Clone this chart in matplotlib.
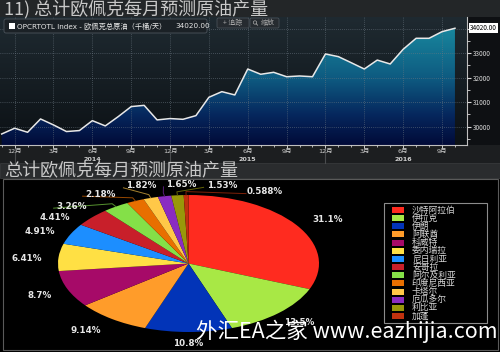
import numpy as np
import pandas as pd
import matplotlib
matplotlib.use('Agg')
import matplotlib.pyplot as plt
import matplotlib.transforms as mtransforms
from matplotlib.colors import LinearSegmentedColormap, to_rgb
from matplotlib.patches import Rectangle, FancyBboxPatch, Circle
from matplotlib.ticker import MultipleLocator, FuncFormatter

CJK = ['Noto Sans CJK SC', 'DejaVu Sans']
plt.rcParams['font.family'] = CJK

# OPEC total crude output, monthly, Nov 2013 - Oct 2016 (kb/d)
months = pd.date_range('2013-11-01', periods=36, freq='MS')
opec_total = [29700, 29935, 29770, 30314, 30070, 29800, 29840, 30245, 30030, 30410, 30820, 30870,
              30275, 30330, 30300, 30450, 31200, 31430, 31295, 32355, 32140, 32220, 32040, 32070,
              32040, 32970, 32860, 32610, 32355, 32720, 32560, 33160, 33610, 33610, 33880, 34020]

# member share of output (%)
members = ['沙特阿拉伯', '伊拉克', '伊朗', '阿联酋', '科威特', '委内瑞拉', '尼日利亚',
           '安哥拉', '阿尔及利亚', '印度尼西亚', '卡塔尔', '厄瓜多尔', '利比亚', '加蓬']
shares = [31.1, 13.5, 10.8, 9.14, 8.7, 6.41, 4.91, 4.41, 3.26, 2.18, 1.82, 1.65, 1.53, 0.588]
pie_colors = ['#ff2b1f', '#a8e845', '#0234b8', '#ff9c2a', '#a60a68', '#ffe044', '#1c8eff',
              '#c81f2a', '#84e048', '#e86f00', '#ffc848', '#8a2cc2', '#98980a', '#c0320e']

# label layout (degrees shifted from slice middle, radius)
label_shift = [-3, 1, 0, -3, 0, 1.5, 3, 9, 13, 9.5, 0.7, -8, -17.5, -30]
label_r = [1.24, 1.21, 1.175, 1.25, 1.23, 1.24, 1.23, 1.23, 1.225, 1.215, 1.19, 1.15, 1.17, 1.2]

W, H = 500, 352
fig = plt.figure(figsize=(W / 100, H / 100), dpi=100, facecolor='black')


def frac(x0, y0, x1, y1):
    return [x0 / W, 1 - y1 / H, (x1 - x0) / W, (y1 - y0) / H]


def overlay(z):
    a = fig.add_axes([0, 0, 1, 1], zorder=z)
    a.set_xlim(0, W)
    a.set_ylim(H, 0)
    a.axis('off')
    return a


# background bands
bg = overlay(0)
bg.add_patch(Rectangle((0, 0), W, 17, fc='#232628', ec='none'))
bg.add_patch(Rectangle((0, 17), W, 128, fc='#0e1013', ec='none'))
bg.add_patch(Rectangle((0, 145), W, 18, fc='#1c1e20', ec='none'))
bg.add_patch(Rectangle((0, 163), W, 15, fc='#2a2c2e', ec='#3a3c3e', lw=0.6))
bg.add_patch(Rectangle((2.5, 179), W - 5, 171, fc='black', ec='#5a5a5a', lw=0.8))

# ---- top: line chart ----
ax = fig.add_axes(frac(0, 17, 467, 145), zorder=1)
x = np.arange(len(months))
ylo, yhi = 29250, 34480
xlo, xhi = -0.13, 35.93
grad = np.linspace(ylo, yhi, 256)[:, None]
bg_cmap = LinearSegmentedColormap.from_list('bg', ['#0c1115', '#1f2a31'])
fill_cmap = LinearSegmentedColormap.from_list(
    'fill', [(0, '#010a38'), (0.24, '#06285e'), (0.52, '#0e5a80'), (1, '#1a90a4')])
ax.imshow(grad, cmap=bg_cmap, extent=[xlo, xhi, ylo, yhi], origin='lower',
          aspect='auto', zorder=0)
poly = ax.fill_between(x, opec_total, ylo, facecolor='none', edgecolor='none')
img = ax.imshow(grad, cmap=fill_cmap, extent=[xlo, xhi, ylo, yhi], origin='lower',
                aspect='auto', zorder=1)
img.set_clip_path(poly.get_paths()[0], transform=ax.transData)
ax.plot(x, opec_total, color='#e8e8e8', lw=1.1, zorder=4)
ax.set_xlim(xlo, xhi)
ax.set_ylim(ylo, yhi)

qtr = [i for i, m in enumerate(months) if m.month % 3 == 0]
ax.set_xticks(qtr)
ax.set_xticklabels([f'{months[i].month}月' for i in qtr],
                   family=['DejaVu Sans', 'Noto Sans CJK SC'])
ax.set_xticks(x, minor=True)
ax.yaxis.tick_right()
ax.set_yticks(range(30000, 35000, 1000))
ax.yaxis.set_major_formatter(FuncFormatter(lambda v, p: '' if v > 33500 else f'{v:.0f}'))
ax.yaxis.set_minor_locator(MultipleLocator(500))
ax.tick_params(axis='x', which='major', colors='#cfcfcf', labelsize=4.6, length=2.5, width=0.7, pad=0.2)
ax.tick_params(axis='x', which='minor', color='#cfcfcf', length=1.5, width=0.6)
ax.tick_params(axis='y', which='major', colors='#d8d8d8', labelsize=4.6, length=3, width=0.8, pad=1)
ax.tick_params(axis='y', which='minor', color='#d8d8d8', length=2, width=0.6)
ax.grid(True, which='major', color='#6c7882', ls=(0, (1, 2)), lw=0.5)
ax.set_axisbelow(False)
for s in ['top', 'left']:
    ax.spines[s].set_visible(False)
for s in ['right', 'bottom']:
    ax.spines[s].set_color('#bfbfbf')
    ax.spines[s].set_linewidth(0.8)

blend = mtransforms.blended_transform_factory(ax.transData, ax.transAxes)
for i, m in enumerate(months):
    if m.month == 6:
        ax.text(i, -0.11, str(m.year), transform=blend, ha='center', va='center',
                fontsize=4.6, color='#cfcfcf', fontweight='bold', family='DejaVu Sans')
    if m.month == 12:
        ax.plot([i, i], [0, -0.14], transform=blend, color='#4a4c4e', lw=0.8, clip_on=False)

last = opec_total[-1]
ax.annotate(f'{last:.2f}', xy=(1, last), xycoords=('axes fraction', 'data'),
            xytext=(2, 0), textcoords='offset points', fontsize=4.6, color='black',
            va='center', ha='left', annotation_clip=False, zorder=6,
            bbox=dict(boxstyle='square,pad=0.15', fc='white', ec='none'))

# ---- bottom: pie ----
pax = fig.add_axes(frac(58, 195, 319, 332), zorder=2)
wedges, _ = pax.pie(shares, colors=pie_colors, startangle=90, counterclock=False,
                    radius=1, wedgeprops=dict(linewidth=0))
pax.set_aspect('auto')
pax.set_xlim(-1, 1)
pax.set_ylim(-1, 1)
pax.axis('off')

for i, (v, w) in enumerate(zip(shares, wedges)):
    mid = np.deg2rad((w.theta1 + w.theta2) / 2)
    ang = mid + np.deg2rad(label_shift[i])
    lx, ly = label_r[i] * np.cos(ang), label_r[i] * np.sin(ang)
    pax.text(lx, ly, f'{v:.3g}%', ha='center', va='center', fontsize=6.3,
             fontweight='bold', color='#e6e6e6', family='DejaVu Sans', clip_on=False)
    if i >= 8:
        deg = np.rad2deg(ang)
        if deg > 115:
            anchor = (lx + 0.13, ly)
        elif deg > 85:
            anchor = (lx, ly - 0.07)
        else:
            anchor = (lx - 0.14, ly - 0.03)
        lc = np.array(to_rgb(pie_colors[i])) * 0.65
        pax.plot([np.cos(mid), 1.05 * np.cos(mid), anchor[0]],
                 [np.sin(mid), 1.05 * np.sin(mid), anchor[1]],
                 color=lc, lw=0.7, clip_on=False)

# ---- foreground: titles, legends, watermark ----
fg = overlay(5)
fg.text(4, 9.5, '11) 总计欧佩克每月预测原油产量', fontsize=13, color='#c8c8c8',
        ha='left', va='center')
fg.text(4, 171, '总计欧佩克每月预测原油产量', fontsize=13, color='#c8c8c8',
        ha='left', va='center')

fg.add_patch(FancyBboxPatch((4, 19), 203, 14, boxstyle='round,pad=0,rounding_size=2',
                            fc='#1b2126', ec='#4c545c', lw=0.6))
fg.add_patch(Rectangle((8.5, 22.5), 6.5, 6.5, fc='white', ec='none'))
fg.text(17, 26.2, 'OPCRTOTL Index - 欧佩克总原油（千桶/天）', fontsize=5.2, color='#e8e8e8',
        ha='left', va='center', family=['DejaVu Sans', 'Noto Sans CJK SC'])
fg.text(175, 26.2, f'{last:.2f}', fontsize=5.2, color='#e8e8e8', ha='left', va='center',
        family='DejaVu Sans')

fg.add_patch(FancyBboxPatch((217, 18), 32, 10, boxstyle='round,pad=0,rounding_size=1.5',
                            fc='#262b30', ec='#50575e', lw=0.5))
fg.text(233, 23, '+ 追踪', fontsize=5, color='#a8a8a8', ha='center', va='center')
fg.add_patch(FancyBboxPatch((250, 18), 29, 10, boxstyle='round,pad=0,rounding_size=1.5',
                            fc='#262b30', ec='#50575e', lw=0.5))
fg.add_patch(Circle((255, 22.5), 1.7, fc='none', ec='#a8a8a8', lw=0.5))
fg.plot([256.2, 257.6], [23.8, 25.2], color='#a8a8a8', lw=0.6)
fg.text(268, 23, '缩放', fontsize=5, color='#a8a8a8', ha='center', va='center')

# pie legend
fg.add_patch(Rectangle((384, 203), 103, 120, fc='black', ec='#8c8c8c', lw=0.8))
for i, (name, w) in enumerate(zip(members, wedges)):
    y = 210 + i * 8.15
    fg.add_patch(Rectangle((392, y - 3), 12, 6, fc=w.get_facecolor(), ec='none'))
    fg.text(412, y, name, fontsize=6.3, color='#d8d8d8', ha='left', va='center')

fg.text(196, 331, '外汇EA之家 www.eazhijia.com', fontsize=15.5, color='white',
        ha='left', va='center', family='Noto Sans CJK SC')

fig.savefig('out.png', dpi=100, facecolor=fig.get_facecolor())
